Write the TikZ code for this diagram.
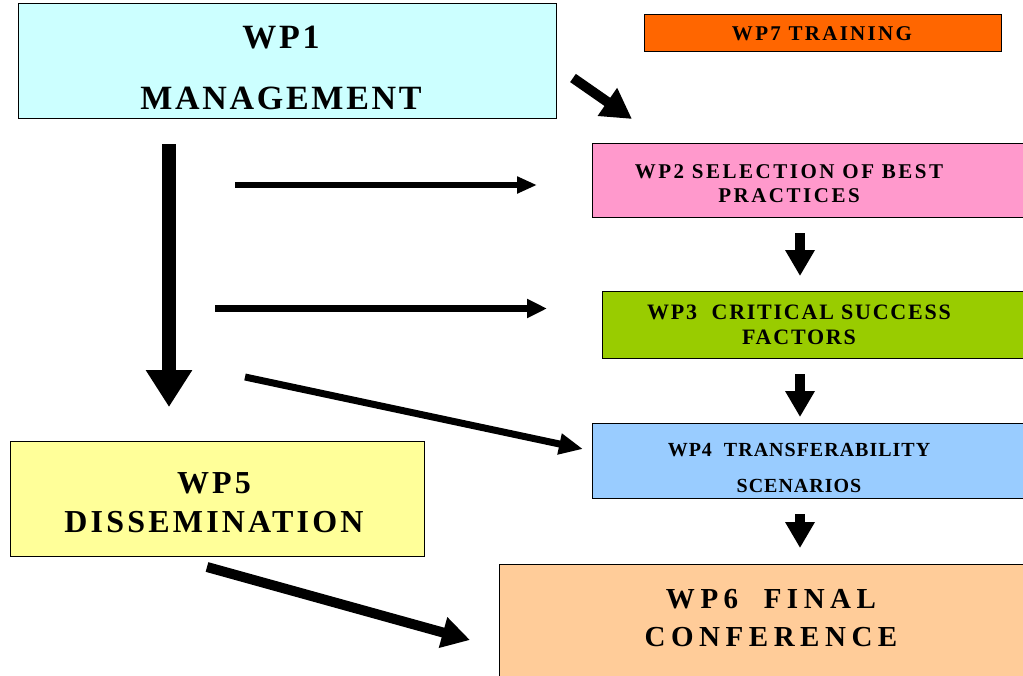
\documentclass[tikz,border=0pt]{standalone}
\usepackage{fontspec}
\setmainfont{Liberation Serif}
\usepackage{xcolor}
\usepackage{tikz}
\usetikzlibrary{arrows.meta,positioning}

\definecolor{wpcyan}{HTML}{CCFFFF}
\definecolor{wporange}{HTML}{FF6600}
\definecolor{wppink}{HTML}{FF99CC}
\definecolor{wpgreen}{HTML}{99CC00}
\definecolor{wpblue}{HTML}{99CCFF}
\definecolor{wpyellow}{HTML}{FFFF99}
\definecolor{wppeach}{HTML}{FFCC99}

\newcommand{\wpfont}[3]{\bfseries\fontsize{#1}{#2}\selectfont\addfontfeature{LetterSpace=#3}}

\tikzset{
  wpbox/.style={draw=black, line width=1pt, inner sep=0pt},
  wptext/.style={align=center, inner sep=0pt, text=black},
  fatarrow/.style={line width=#1, draw=black, fill=black},
}

\begin{document}
\begin{tikzpicture}[x=1pt,y=-1pt]
    \useasboundingbox (0,0) rectangle (1023,675);

    % boxes
    \node[wpbox, fill=wpcyan, minimum width=538, minimum height=115] (wp1) at (287,60.5) {};
    \node[wpbox, fill=wporange, minimum width=357, minimum height=37] (wp7) at (822.5,32.5) {};
    \node[wpbox, fill=wppink, minimum width=438, minimum height=74] (wp2) at (811,180) {};
    \node[wpbox, fill=wpgreen, minimum width=428, minimum height=67] (wp3) at (816,324.5) {};
    \node[wpbox, fill=wpblue, minimum width=438, minimum height=75] (wp4) at (811,460.5) {};
    \node[wpbox, fill=wpyellow, minimum width=414, minimum height=115] (wp5) at (217,498.5) {};
    \node[wpbox, fill=wppeach, minimum width=531, minimum height=126] (wp6) at (764.5,627) {};

    % texts
    \node[wptext, font={\wpfont{34}{61}{8}}] (wp1t) at (281,67.5) {WP1\\MANAGEMENT};
    \node[wptext, font={\wpfont{21}{24}{11}}] (wp7t) at (822,34) {WP7 TRAINING};
    \node[wptext, font={\wpfont{21}{24}{12}}] (wp2t) at (789,184) {WP2 SELECTION OF BEST\\PRACTICES};
    \node[wptext, font={\wpfont{22}{25}{8}}] (wp3t) at (799,325) {WP3~~CRITICAL SUCCESS\\FACTORS};
    \node[wptext, font={\wpfont{20}{36}{5}}] (wp4t) at (799,467.5) {WP4~~TRANSFERABILITY\\SCENARIOS};
    \node[wptext, font={\wpfont{32}{39}{10}}] (wp5t) at (214,503) {WP5\\DISSEMINATION};
    \node[wptext, font={\wpfont{29}{38}{19}}] (wp6t) at (771,618.5) {WP6~~FINAL\\CONFERENCE};

    % arrow ends
    \coordinate (a1s) at (573,78);   \coordinate (a1e) at (632,119);
    \coordinate (a2s) at (169,144);  \coordinate (a2e) at (169,407);
    \coordinate (a3s) at (235,185);  \coordinate (a3e) at (537,185);
    \coordinate (a4s) at (215,308.5);\coordinate (a4e) at (547,308.5);
    \coordinate (a5s) at (245,377);  \coordinate (a5e) at (583,449);
    \coordinate (a6s) at (800,233);  \coordinate (a6e) at (800,276);
    \coordinate (a7s) at (800,374);  \coordinate (a7e) at (800,417);
    \coordinate (a8s) at (800,514);  \coordinate (a8e) at (800,548);
    \coordinate (a9s) at (207,567);  \coordinate (a9e) at (470,640);

    % arrows
    \draw[fatarrow=10pt, -{Triangle[length=30pt,width=32pt]}] (a1s) -- (a1e);
    \draw[fatarrow=14pt, -{Triangle[length=37pt,width=44pt]}] (a2s) -- (a2e);
    \draw[fatarrow=6pt, -{Triangle[length=20pt,width=16pt]}] (a3s) -- (a3e);
    \draw[fatarrow=7pt, -{Triangle[length=20pt,width=18pt]}] (a4s) -- (a4e);
    \draw[fatarrow=7pt, -{Triangle[length=24pt,width=20pt]}] (a5s) -- (a5e);
    \foreach \s/\e in {a6s/a6e, a7s/a7e, a8s/a8e}
        \draw[fatarrow=10pt, -{Triangle[length=26pt,width=28pt]}] (\s) -- (\e);
    \draw[fatarrow=10pt, -{Triangle[length=28pt,width=30pt]}] (a9s) -- (a9e);
\end{tikzpicture}
\end{document}
